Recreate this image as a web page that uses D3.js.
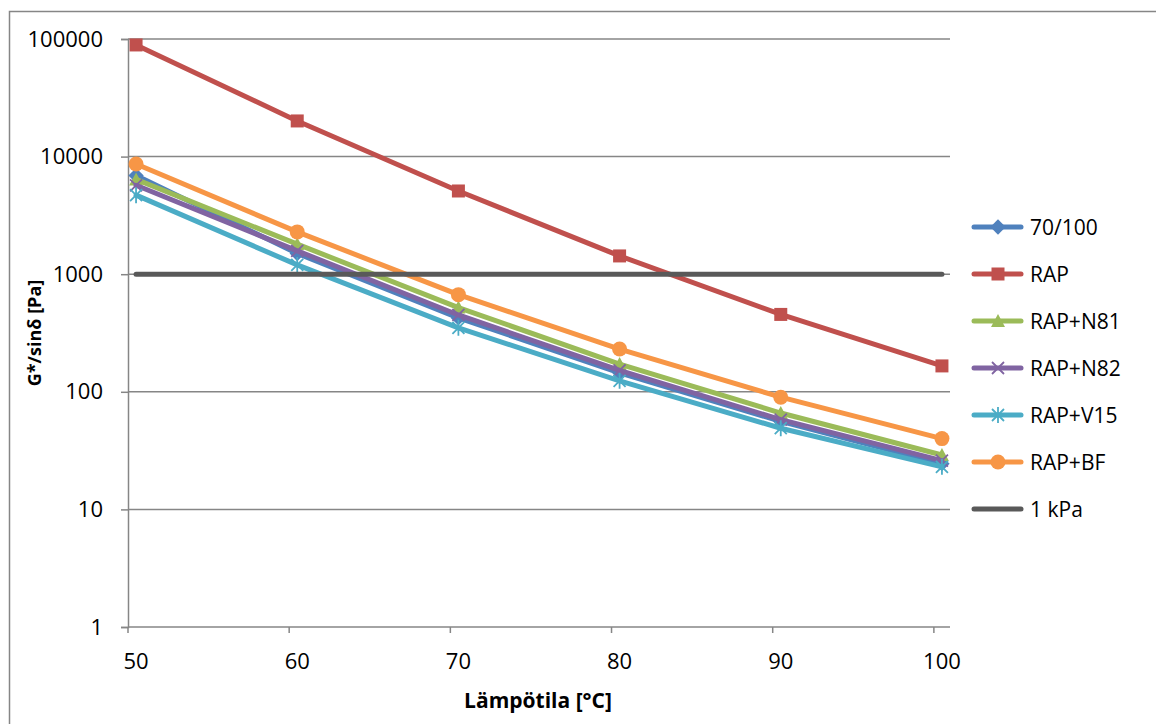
<!DOCTYPE html>
<html lang="fi">
<head>
  <meta charset="UTF-8">
  <title>G*/sinδ</title>
  <script src="https://d3js.org/d3.v7.min.js"></script>
  <style>
    body { margin: 0; background: #fff; font-family: "Open Sans", "Liberation Sans", sans-serif; }
    text { fill: #000; }
  </style>
</head>
<body>
  <div id="chart"></div>

  <script>
    // data
    const temps = [50, 60, 70, 80, 90, 100];
    const yTicks = [1, 10, 100, 1000, 10000, 100000];
    const seriesNames = ["70/100", "RAP", "RAP+N81", "RAP+N82", "RAP+V15", "RAP+BF", "1 kPa"];
    const v70100 = [6900, 1500, 425, 145, 56, 24.5];
    const vRAP = [89000, 20100, 5100, 1430, 455, 166];
    const vN81 = [6400, 1800, 520, 172, 66, 29];
    const vN82 = [5700, 1580, 450, 152, 58, 26];
    const vV15 = [4700, 1200, 350, 124, 49, 23];
    const vBF = [8650, 2290, 670, 231, 90, 40];
    const vLimit = [1000, 1000, 1000, 1000, 1000, 1000];

    const colors = ["#4F81BD", "#C0504D", "#9BBB59", "#8064A2", "#4BACC6", "#F79646", "#595959"];
    const markers = ["diamond", "square", "triangle", "cross", "star", "circle", null];
    const allValues = [v70100, vRAP, vN81, vN82, vV15, vBF, vLimit];

    const W = 1156, H = 724;
    const plot = { left: 128, right: 950, top: 39, bottom: 627 };

    const svg = d3.select("#chart").append("svg")
      .attr("width", W).attr("height", H);

    svg.append("rect")
      .attr("x", 9.5).attr("y", 11.5)
      .attr("width", 1160).attr("height", 730)
      .attr("fill", "#fff").attr("stroke", "#868686").attr("stroke-width", 1.5);

    const x = d3.scaleLinear().domain([49.5, 100.5]).range([plot.left, plot.right]);
    const y = d3.scaleLog().domain([1, 100000]).range([plot.bottom, plot.top]);

    // gridlines
    svg.append("g").selectAll("line")
      .data(yTicks.slice(1))
      .enter().append("line")
      .attr("x1", plot.left).attr("x2", plot.right)
      .attr("y1", d => y(d)).attr("y2", d => y(d))
      .attr("stroke", "#868686").attr("stroke-width", 1.5);

    // y axis
    const yAxis = svg.append("g")
      .attr("transform", `translate(${plot.left},0)`)
      .call(d3.axisLeft(y).tickValues(yTicks).tickFormat(d3.format("d")).tickSize(7).tickPadding(18));
    yAxis.select(".domain").attr("stroke", "#868686").attr("stroke-width", 1.5);
    yAxis.selectAll(".tick line").attr("stroke", "#868686").attr("stroke-width", 1.5);
    yAxis.selectAll(".tick text").attr("font-size", 22).attr("font-family", "Open Sans").attr("fill", "#000");

    // x axis: ticks sit half a unit left of the labels
    const xg = svg.append("g").attr("transform", `translate(0,${plot.bottom})`);
    xg.append("line")
      .attr("x1", plot.left).attr("x2", plot.right)
      .attr("stroke", "#868686").attr("stroke-width", 1.5);
    xg.selectAll(".tk").data(temps).enter().append("line")
      .attr("x1", d => x(d - 0.5)).attr("x2", d => x(d - 0.5))
      .attr("y1", 0).attr("y2", 6)
      .attr("stroke", "#868686").attr("stroke-width", 1.5);
    xg.selectAll(".lbl").data(temps).enter().append("text")
      .attr("x", d => x(d)).attr("y", 42)
      .attr("text-anchor", "middle")
      .attr("font-size", 22)
      .text(d => d);

    // axis titles
    svg.append("text")
      .attr("transform", `translate(41,${(plot.top + plot.bottom) / 2}) rotate(-90)`)
      .attr("text-anchor", "middle")
      .attr("font-size", 18).attr("font-weight", "bold")
      .text("G*/sinδ [Pa]");
    svg.append("text")
      .attr("x", 538).attr("y", 708)
      .attr("text-anchor", "middle")
      .attr("font-size", 21).attr("font-weight", "bold")
      .text("Lämpötila [°C]");

    function drawMarker(g, type, color, cx, cy) {
      if (type === "diamond") {
        g.append("path").attr("d", d3.symbol(d3.symbolDiamond2, 150)()).attr("transform", `translate(${cx},${cy})`).attr("fill", color);
      } else if (type === "square") {
        g.append("rect").attr("x", cx - 6.5).attr("y", cy - 6.5).attr("width", 13).attr("height", 13).attr("fill", color);
      } else if (type === "triangle") {
        g.append("path").attr("d", `M${cx},${cy - 7}L${cx + 7},${cy + 6}L${cx - 7},${cy + 6}Z`).attr("fill", color);
      } else if (type === "circle") {
        g.append("circle").attr("cx", cx).attr("cy", cy).attr("r", 7.5).attr("fill", color);
      } else if (type === "cross") {
        g.append("path").attr("d", `M${cx - 6},${cy - 6}L${cx + 6},${cy + 6}M${cx - 6},${cy + 6}L${cx + 6},${cy - 6}`)
          .attr("stroke", color).attr("stroke-width", 1.8).attr("fill", "none");
      } else if (type === "star") {
        g.append("path").attr("d", `M${cx - 6},${cy - 6}L${cx + 6},${cy + 6}M${cx - 6},${cy + 6}L${cx + 6},${cy - 6}M${cx},${cy - 8}L${cx},${cy + 8}`)
          .attr("stroke", color).attr("stroke-width", 1.8).attr("fill", "none");
      }
    }

    const line = d3.line().x((d, i) => x(temps[i])).y(d => y(d));

    allValues.forEach((vals, s) => {
      const g = svg.append("g");
      g.append("path")
        .attr("d", line(vals))
        .attr("fill", "none")
        .attr("stroke", colors[s])
        .attr("stroke-width", 5)
        .attr("stroke-linejoin", "round")
        .attr("stroke-linecap", "round");
      if (markers[s]) {
        vals.forEach((v, i) => drawMarker(g, markers[s], colors[s], x(temps[i]), y(v)));
      }
    });

    // legend
    const legend = svg.append("g");
    seriesNames.forEach((name, s) => {
      const ly = 227 + s * 47;
      legend.append("line")
        .attr("x1", 974).attr("x2", 1021).attr("y1", ly).attr("y2", ly)
        .attr("stroke", colors[s]).attr("stroke-width", 5)
        .attr("stroke-linecap", "round");
      if (markers[s]) drawMarker(legend, markers[s], colors[s], 998, ly);
      legend.append("text")
        .attr("x", 1030).attr("y", ly + 7.5)
        .attr("font-size", 21)
        .text(name);
    });
  </script>
</body>
</html>
